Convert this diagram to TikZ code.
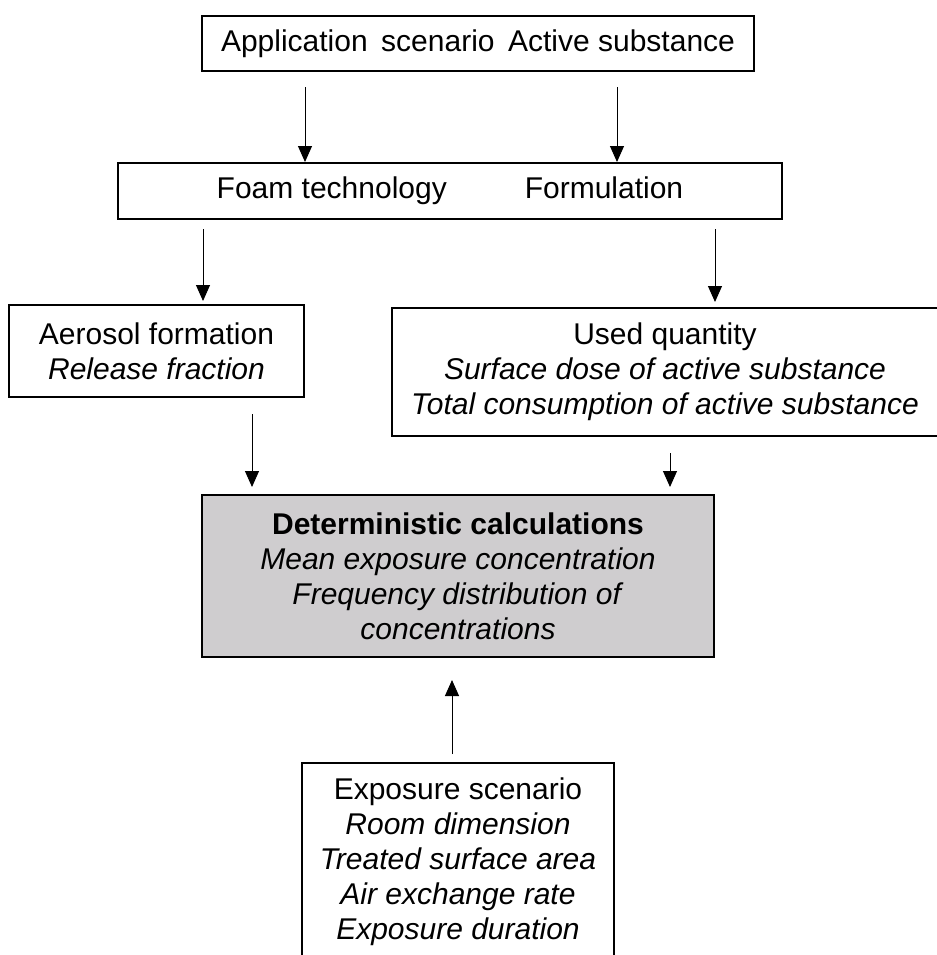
\documentclass[tikz,border=0pt]{standalone}
\usepackage{fontspec}
\setmainfont{Liberation Sans}
\usetikzlibrary{calc,arrows.meta}

\definecolor{calcgray}{RGB}{207,205,207}

\tikzset{
    box/.style={draw, line width=1pt, inner sep=0pt, align=center,
        font=\fontsize{15}{17.5}\selectfont},
    arr/.style={-{Triangle[length=8pt,width=7pt]}, line width=0.5pt},
}

\begin{document}
\begin{tikzpicture}[x=0.5pt,y=-0.5pt]
        \useasboundingbox (0,0) rectangle (937,955);
        % 输入: 应用场景与活性物质
        \node [box, minimum width=276pt, minimum height=27.5pt] (appl) at (478,43.5)
            {Application\hspace{0.45em}scenario\hspace{0.45em}Active substance};
        \node [box, minimum width=332pt, minimum height=28pt] (foam) at (450,191)
            {Foam technology\hspace{39pt}Formulation};
        % 中间层
        \node [box, minimum width=147.5pt, minimum height=46pt] (aero) at (156.5,351)
            {Aerosol formation\\ \textit{Release fraction}};
        \node [box, minimum width=273pt, minimum height=64pt] (used) at (665,372)
            {Used quantity\\ \textit{Surface dose of active substance}\\
             \textit{Total consumption of active substance}};
        % 计算结果
        \node [box, fill=calcgray, minimum width=256pt, minimum height=81pt] (det) at (458,576)
            {\textbf{Deterministic calculations}\\ \textit{Mean exposure concentration}\\
             \textit{Frequency distribution of}\\ \textit{concentrations}};
        % 暴露场景
        \node [box, minimum width=156pt, minimum height=99pt] (expo) at (458,862)
            {Exposure scenario\\ \textit{Room dimension}\\ \textit{Treated surface area}\\
             \textit{Air exchange rate}\\ \textit{Exposure duration}};

        % 箭头
        \coordinate (a1) at ($(appl.south)+(-173,15)$);
        \coordinate (a2) at ($(appl.south)+(139,15)$);
        \draw [arr] (a1) -- (a1 |- foam.north);
        \draw [arr] (a2) -- (a2 |- foam.north);

        \coordinate (b1) at ($(foam.south)+(-247,9)$);
        \coordinate (b2) at ($(foam.south)+(265,9)$);
        \draw [arr, shorten >=1.5pt] (b1) -- (b1 |- aero.north);
        \draw [arr, shorten >=2.5pt] (b2) -- (b2 |- used.north);

        \coordinate (c1) at ($(aero.south)+(95.5,16)$);
        \coordinate (c2) at ($(used.south)+(5,16)$);
        \draw [arr, shorten >=3.5pt] (c1) -- (c1 |- det.north);
        \draw [arr, shorten >=3.5pt] (c2) -- (c2 |- det.north);

        \coordinate (d1) at ($(expo.north)+(-6,-8)$);
        \draw [arr, shorten >=11pt] (d1) -- (d1 |- det.south);
    \end{tikzpicture}
\end{document}
